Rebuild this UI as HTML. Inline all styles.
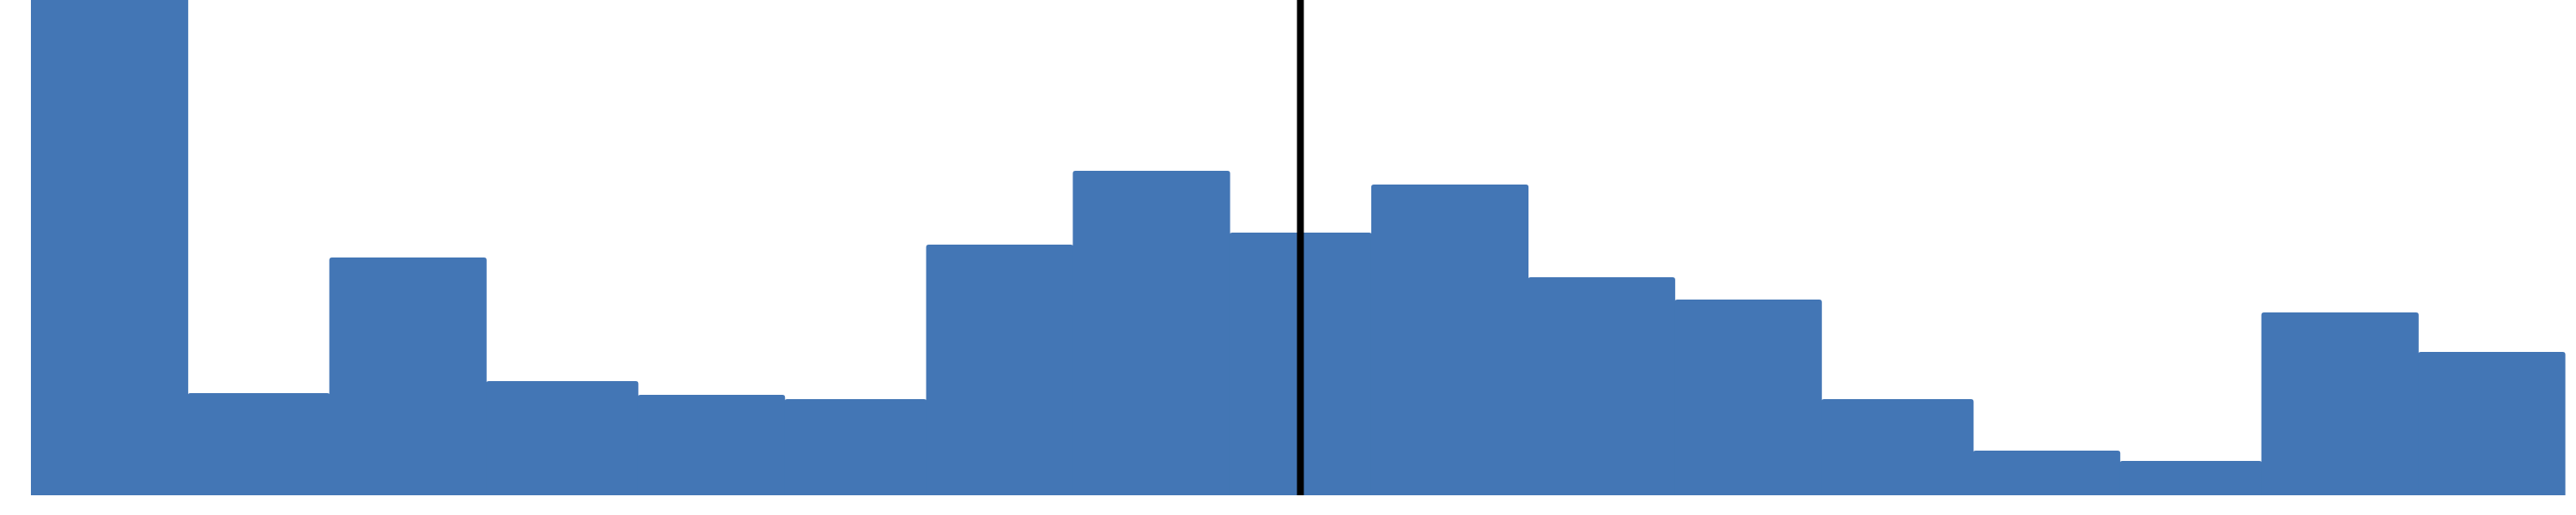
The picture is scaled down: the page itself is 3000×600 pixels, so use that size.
<!DOCTYPE html>
<html><head><meta charset="utf-8"><style>
html,body{margin:0;padding:0;background:#fff;width:3000px;height:600px;overflow:hidden}
svg{display:block}
</style></head><body>
<svg id="chart" width="3000" height="600" viewBox="0 0 3000 600" xmlns="http://www.w3.org/2000/svg">
<g id="bars"></g>
<line id="marker" x1="1511" x2="1511" y1="0" y2="577" stroke="#000" stroke-width="8"/>
</svg>
<script>
const binEdges = [0,31,59,90,120,149,177,206,237,265,296,325,354,384,413,441,472,501];
const counts = [650,119,277,133,117,112,292,378,306,362,254,228,112,52,40,213,167];
const markerValue = 251;

const X0 = 36, X1 = 2987, Y0 = 577, YMAX = 577;
const dMin = binEdges[0], dMax = binEdges[binEdges.length - 1];
function xScale(v){ return X0 + (v - dMin) / (dMax - dMin) * (X1 - X0); }
function yScale(v){ return Y0 - Math.min(v, YMAX * 1.2) * (Y0 / YMAX); }

const ns = "http://www.w3.org/2000/svg";
const g = document.getElementById('bars');
counts.forEach((c, i) => {
  const x = xScale(binEdges[i]), x2 = xScale(binEdges[i + 1]), y = yScale(c);
  const r = 3, w = x2 - x + 0.6;
  const p = document.createElementNS(ns, 'path');
  p.setAttribute('d', `M${x},${Y0} L${x},${y + r} Q${x},${y} ${x + r},${y} L${x + w - r},${y} Q${x + w},${y} ${x + w},${y + r} L${x + w},${Y0} Z`);
  p.setAttribute('fill', '#4376b5');
  
  
  g.appendChild(p);
});
const mx = xScale(markerValue);
const m = document.getElementById('marker');
m.setAttribute('x1', mx);
m.setAttribute('x2', mx);
</script>
</body></html>
